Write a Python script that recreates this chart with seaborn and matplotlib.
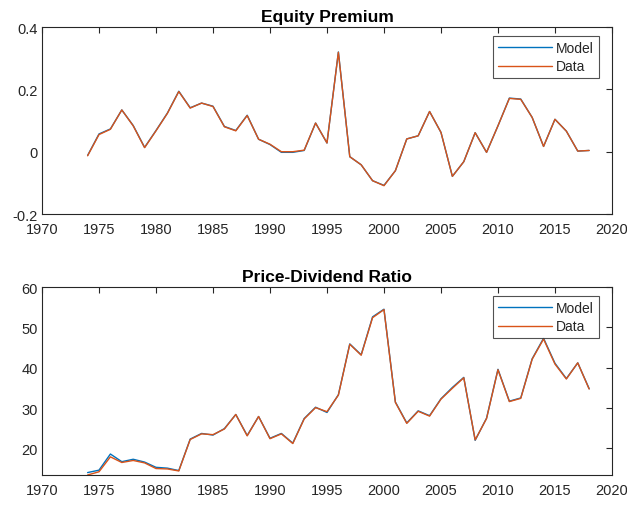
import seaborn as sns
import matplotlib.pyplot as plt
import pandas as pd

########################################################
# values
########################################################
years = list(range(1974, 2019))

ep_data = [-0.013, 0.055, 0.072, 0.134, 0.083, 0.013, 0.067, 0.123, 0.193, 0.140,
           0.156, 0.145, 0.080, 0.067, 0.116, 0.040, 0.024, 0.000, 0.000, 0.005,
           0.092, 0.028, 0.319, -0.016, -0.042, -0.093, -0.109, -0.061, 0.041, 0.051,
           0.129, 0.062, -0.079, -0.032, 0.061, -0.002, 0.083, 0.171, 0.168, 0.110,
           0.017, 0.104, 0.066, 0.002, 0.004]
ep_model = [-0.012, 0.057, 0.073, 0.134, 0.084, 0.014, 0.068, 0.124, 0.194, 0.141,
            0.156, 0.146, 0.081, 0.068, 0.117, 0.040, 0.023, -0.002, -0.002, 0.004,
            0.092, 0.028, 0.320, -0.016, -0.042, -0.093, -0.108, -0.061, 0.041, 0.051,
            0.129, 0.062, -0.079, -0.032, 0.061, -0.002, 0.083, 0.172, 0.169, 0.110,
            0.017, 0.104, 0.066, 0.002, 0.004]

pd_data = [13.4, 14.2, 17.9, 16.5, 17.0, 16.4, 15.0, 14.9, 14.4, 22.2,
           23.6, 23.4, 24.8, 28.4, 23.1, 27.9, 22.4, 23.6, 21.2, 27.3,
           30.1, 29.1, 33.2, 45.8, 43.1, 52.4, 54.4, 31.4, 26.2, 29.2,
           28.0, 32.2, 34.9, 37.5, 22.1, 27.4, 39.5, 31.6, 32.4, 42.1,
           47.1, 40.9, 37.2, 41.2, 34.7]
pd_model = [14.0, 14.6, 18.6, 16.7, 17.3, 16.6, 15.3, 15.1, 14.5, 22.3,
            23.7, 23.3, 24.9, 28.4, 23.2, 27.9, 22.5, 23.7, 21.3, 27.4,
            30.2, 28.9, 33.3, 45.9, 43.2, 52.6, 54.5, 31.5, 26.3, 29.3,
            28.1, 32.3, 35.1, 37.6, 22.0, 27.5, 39.6, 31.7, 32.5, 42.2,
            47.3, 41.1, 37.3, 41.2, 34.8]

xticks = list(range(1970, 2021, 5))

df_ep = pd.DataFrame({'year': years * 2,
                      'value': ep_model + ep_data,
                      'series': ['Model'] * len(years) + ['Data'] * len(years)})
df_pd = pd.DataFrame({'year': years * 2,
                      'value': pd_model + pd_data,
                      'series': ['Model'] * len(years) + ['Data'] * len(years)})

########################################################
# style
########################################################
sns.set_style("white")
plt.rcParams['font.family'] = ['Liberation Sans', 'DejaVu Sans']
dark = '#262626'
palette = {'Model': '#0072BD', 'Data': '#D95319'}

fig = plt.figure(figsize=(6.27, 5.06), dpi=100)
ax1 = fig.add_axes([0.067, 0.575, 0.909, 0.3696])
ax2 = fig.add_axes([0.067, 0.0593, 0.909, 0.3715])


def style_axes(ax, title):
    ax.set_title(title, fontsize=12.5, fontweight='bold', color='black', pad=4)
    ax.set_xlim(1970, 2020)
    ax.set_xticks(xticks)
    ax.set_xlabel('')
    ax.set_ylabel('')
    ax.tick_params(direction='in', length=4, width=0.8, top=True, right=True,
                   labelsize=10.5, colors=dark)
    ax.tick_params(axis='x', pad=6)
    ax.tick_params(axis='y', pad=3)
    for s in ax.spines.values():
        s.set_visible(True)
        s.set_color(dark)
        s.set_linewidth(0.8)
    leg = ax.legend(loc='upper right', bbox_to_anchor=(0.977, 0.95),
                    fontsize=10, handlelength=3.9, frameon=True, fancybox=False,
                    borderpad=0.35, labelspacing=0.3, handletextpad=0.3,
                    borderaxespad=0)
    leg.get_frame().set_edgecolor(dark)
    leg.get_frame().set_linewidth(0.8)


########################################################
# EQUITY PREMIUM
########################################################
sns.lineplot(data=df_ep, x='year', y='value', hue='series', palette=palette,
             linewidth=1.0, ax=ax1)
ax1.set_ylim(-0.2, 0.4)
ax1.set_yticks([-0.2, 0, 0.2, 0.4])
ax1.set_yticklabels(['-0.2', '0', '0.2', '0.4'])
style_axes(ax1, 'Equity Premium')

########################################################
# PRICE-DIVIDEND RATIO
########################################################
sns.lineplot(data=df_pd, x='year', y='value', hue='series', palette=palette,
             linewidth=1.0, ax=ax2)
ax2.set_ylim(13.4, 60)
ax2.set_yticks([20, 30, 40, 50, 60])
style_axes(ax2, 'Price-Dividend Ratio')

plt.savefig('out.png', dpi=100)
